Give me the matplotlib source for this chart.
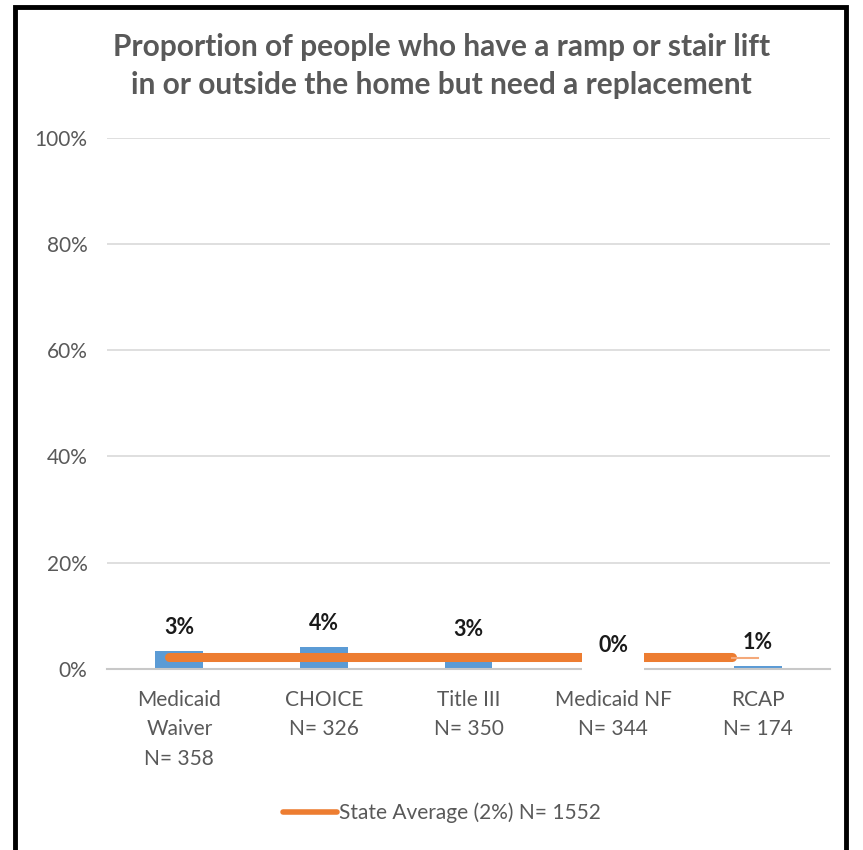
import numpy as np
import matplotlib.pyplot as plt
from matplotlib.patches import Rectangle
from matplotlib.lines import Line2D

plt.rcParams['font.family'] = ['Lato', 'DejaVu Sans']

categories = ['Medicaid\nWaiver\nN= 358', 'CHOICE\nN= 326', 'Title III\nN= 350',
              'Medicaid NF\nN= 344', 'RCAP\nN= 174']
values = [3.4, 4.1, 3.0, 0.0, 0.6]
labels = ['3%', '4%', '3%', '0%', '1%']
state_avg = 2.3
legend_label = 'State Average (2%) N= 1552'

bar_color = '#5b9bd5'
line_color = '#ed7d31'
grey = '#595959'

fig = plt.figure(figsize=(8.63, 8.5), dpi=100)
ax = fig.add_axes([0.124, 0.213, 0.838, 0.625])

x = np.arange(len(categories))
ax.bar(x, values, width=0.33, color=bar_color, zorder=2)

# state average drawn across the categories
ax.plot([x[0] - 0.07, x[-1] - 0.18], [state_avg, state_avg], color=line_color,
        lw=6.5, solid_capstyle='round', zorder=3)
ax.plot([x[-1] - 0.18, x[-1]], [state_avg - 0.2, state_avg - 0.2], color='#f4a97a',
        lw=1.5, zorder=3)

for i, v in enumerate(values):
    box = None
    if v == 0:
        box = dict(boxstyle='square,pad=0.75', fc='white', ec='none')
    ax.annotate(labels[i], (x[i], v), xytext=(0, 17), textcoords='offset points',
                ha='center', va='center', fontsize=15.5, fontweight='bold',
                color='#1a1a1a', bbox=box, zorder=4)

ax.set_xlim(-0.5, 4.5)
ax.set_ylim(0, 100)
ax.set_yticks(np.arange(0, 101, 20))
ax.set_yticklabels([f'{t}%' for t in range(0, 101, 20)])
ax.set_xticks(x)
ax.set_xticklabels(categories, linespacing=1.6)
ax.tick_params(axis='both', length=0, labelsize=15, labelcolor=grey)
ax.tick_params(axis='x', pad=15)
ax.tick_params(axis='y', pad=14)
ax.grid(axis='y', color='#d9d9d9', lw=1.2, zorder=0)
ax.set_axisbelow(True)
for s in ['top', 'right', 'left']:
    ax.spines[s].set_visible(False)
ax.spines['bottom'].set_color('#c8c8c8')
ax.spines['bottom'].set_linewidth(1.5)

fig.text(0.512, 0.922, 'Proportion of people who have a ramp or stair lift\nin or outside the home but need a replacement',
         ha='center', va='center', fontsize=21.5, fontweight='bold', color=grey,
         linespacing=1.45)

handle = Line2D([], [], color=line_color, lw=4, solid_capstyle='round')
fig.legend([handle], [legend_label], loc='center', bbox_to_anchor=(0.512, 0.044),
           frameon=False, fontsize=15, labelcolor=grey, handlelength=2.6,
           handletextpad=0.1)

# black frame around the picture
fig.patches.append(Rectangle((0.017, -0.05), 0.98 - 0.017, 1.042, transform=fig.transFigure,
                             fill=False, ec='black', lw=3.5, zorder=10))

fig.savefig('out.png', dpi=100, facecolor='white')
